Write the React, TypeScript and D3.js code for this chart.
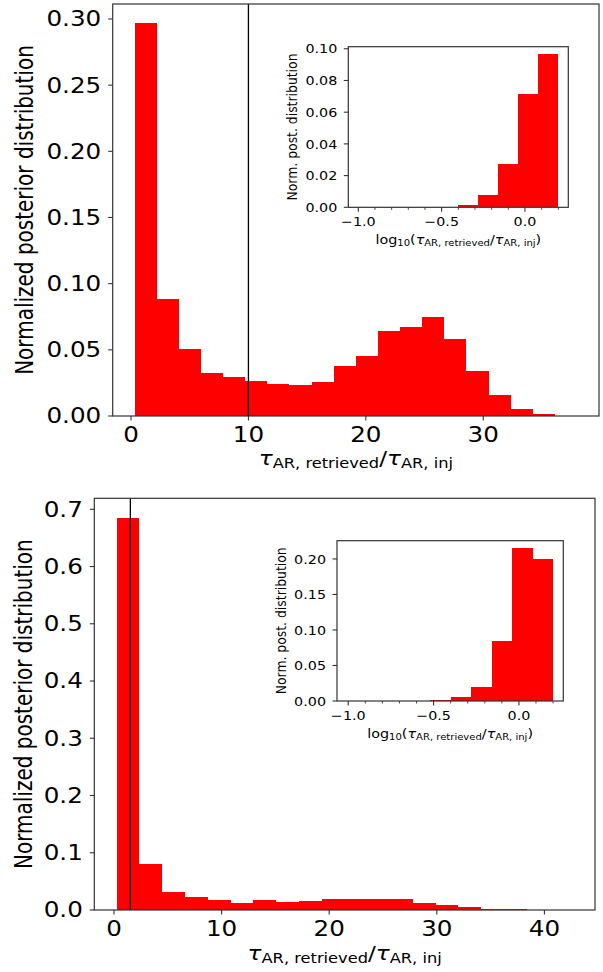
import React from 'react';
import * as d3 from 'd3';

// ---------- data ----------
const topValues = [0.2967, 0.0884, 0.0506, 0.0322, 0.0295, 0.0264, 0.0242, 0.0234, 0.0257, 0.0378, 0.0453, 0.064, 0.0675, 0.0748, 0.0579, 0.034, 0.0161, 0.0055, 0.0013, 0];
const topBinStart = 0.31;
const topBinWidth = 1.884;
const bottomValues = [0.685, 0.0797, 0.0308, 0.0221, 0.0169, 0.0122, 0.0169, 0.014, 0.0151, 0.0186, 0.0186, 0.0186, 0.0186, 0.0122, 0.0081, 0.0047, 0.0012, 0.0012, 0, 0];
const bottomBinStart = 0.25;
const bottomBinWidth = 2.117;
const topInsetValues = [0, 0, 0, 0, 0, 0.00126, 0.0075, 0.0276, 0.0713, 0.0967];
const bottomInsetValues = [0, 0, 0, 0, 0.0014, 0.0052, 0.02, 0.085, 0.2155, 0.2005];
const insetBinStart = -1.0;
const insetBinWidth = 0.12;

const topXTicks = [0, 10, 20, 30];
const topYTicks = [0, 0.05, 0.1, 0.15, 0.2, 0.25, 0.3];
const bottomXTicks = [0, 10, 20, 30, 40];
const bottomYTicks = [0, 0.1, 0.2, 0.3, 0.4, 0.5, 0.6, 0.7];
const topInsetYTicks = [0, 0.02, 0.04, 0.06, 0.08, 0.1];
const bottomInsetYTicks = [0, 0.05, 0.1, 0.15, 0.2];
const insetXTicks = [-1.0, -0.5, 0.0];
const insetMinorTicks = [-0.9, -0.8, -0.7, -0.6, -0.4, -0.3, -0.2, -0.1, 0.1, 0.2];

const topVLine = 10;
const bottomVLine = 1.52;

const yLabelText = 'Normalized posterior distribution';
const insetYLabelText = 'Norm. post. distribution';

// ---------- style ----------
const FONT = 'DejaVu Sans';
const RED = '#ff0000';
const LINE = '#333333';

type BoxProps = {
  left: number; right: number; top: number; bottom: number;
  xDomain: [number, number]; yDomain: [number, number];
  binStart: number; binWidth: number; values: number[];
  xTicks: number[]; yTicks: number[]; minorXTicks?: number[];
  xFmt: (v: number) => string; yFmt: (v: number) => string;
  tickFont: number; tickSX: number; tickLen: number; minorLen?: number;
  yLabelGap: number; xLabelOffset: number; vline?: number;
};

function Axes(p: BoxProps) {
  const x = d3.scaleLinear().domain(p.xDomain).range([p.left, p.right]);
  const y = d3.scaleLinear().domain(p.yDomain).range([p.bottom, p.top]);
  return (
    <g>
      <rect x={p.left} y={p.top} width={p.right - p.left} height={p.bottom - p.top} fill="#fff" />
      <g shapeRendering="crispEdges">
        {p.values.map((v, i) => {
          const a = p.binStart + i * p.binWidth;
          const b = a + p.binWidth;
          if (v <= 0) return null;
          return (
            <rect key={i} x={x(a)} y={y(v)} width={x(b) - x(a)} height={y(0) - y(v)} fill={RED} />
          );
        })}
      </g>
      {p.vline !== undefined && (
        <line x1={x(p.vline)} x2={x(p.vline)} y1={p.top} y2={p.bottom} stroke="#000" strokeWidth={1.3} />
      )}
      <rect x={p.left} y={p.top} width={p.right - p.left} height={p.bottom - p.top} fill="none" stroke={LINE} strokeWidth={1.2} />
      {p.xTicks.map((t) => (
        <g key={'x' + t}>
          <line x1={x(t)} x2={x(t)} y1={p.bottom} y2={p.bottom + p.tickLen} stroke={LINE} strokeWidth={1.1} />
          <text transform={`translate(${x(t)},${p.bottom + p.xLabelOffset}) scale(${p.tickSX},1)`} textAnchor="middle" fontSize={p.tickFont} fontFamily={FONT} fill="#000">{p.xFmt(t)}</text>
        </g>
      ))}
      {(p.minorXTicks || []).map((t) => (
        <line key={'m' + t} x1={x(t)} x2={x(t)} y1={p.bottom} y2={p.bottom + (p.minorLen || 2)} stroke={LINE} strokeWidth={0.9} />
      ))}
      {p.yTicks.map((t) => (
        <g key={'y' + t}>
          <line x1={p.left - p.tickLen} x2={p.left} y1={y(t)} y2={y(t)} stroke={LINE} strokeWidth={1.1} />
          <text transform={`translate(${p.left - p.yLabelGap},${y(t)}) scale(${p.tickSX},1)`} textAnchor="end" dy="0.36em" fontSize={p.tickFont} fontFamily={FONT} fill="#000">{p.yFmt(t)}</text>
        </g>
      ))}
    </g>
  );
}

function RatioLabel({ cx, baseline, F, sx, log }: { cx: number; baseline: number; F: number; sx: number; log?: boolean }) {
  const s = F * 0.7;
  const d = F * 0.17;
  return (
    <text transform={`translate(${cx},${baseline}) scale(${sx},1)`} textAnchor="middle" fontSize={F} fontFamily={FONT} fill="#000">
      {log && <tspan>log</tspan>}
      {log && <tspan fontSize={s} dy={d}>10</tspan>}
      {log && <tspan dy={-d}>(</tspan>}
      <tspan fontStyle="italic">τ</tspan>
      <tspan fontSize={s} dy={d}>AR, retrieved</tspan>
      <tspan dy={-d}>/</tspan>
      <tspan fontStyle="italic">τ</tspan>
      <tspan fontSize={s} dy={d}>AR, inj</tspan>
      {log && <tspan dy={-d}>)</tspan>}
    </text>
  );
}

function YLabel({ x, cy, F, sx, text }: { x: number; cy: number; F: number; sx: number; text: string }) {
  return (
    <text transform={`translate(${x},${cy}) scale(${sx},1) rotate(-90)`} textAnchor="middle" fontSize={F} fontFamily={FONT} fill="#000">{text}</text>
  );
}

export default function App() {
  const f2 = d3.format('.2f');
  const f1 = d3.format('.1f');
  const f0 = d3.format('d');
  const main = { tickFont: 20.5, tickSX: 1.2, tickLen: 4.5, yLabelGap: 11.5, xLabelOffset: 26 };
  const inset = { tickFont: 12.8, tickSX: 1.12, tickLen: 4.5, minorLen: 2.5, yLabelGap: 11, xLabelOffset: 19 };

  // panel geometry
  const T = { left: 112.7, right: 599, top: 4, bottom: 416 };
  const TI = { left: 348.3, right: 568.3, top: 46.7, bottom: 207.3 };
  const B = { left: 94.3, right: 595, top: 498.3, bottom: 910 };
  const BI = { left: 337, right: 563.3, top: 540.7, bottom: 701 };

  return (
    <svg width={603} height={972} style={{ position: 'absolute', left: 0, top: 0, background: '#fff' }}>
      <rect width={603} height={972} fill="#fff" />
      {/* top panel */}
      <Axes {...T} {...main} xDomain={[-1.56, 39.86]} yDomain={[0, 0.3113]}
        binStart={topBinStart} binWidth={topBinWidth} values={topValues}
        xTicks={topXTicks} yTicks={topYTicks} xFmt={f0} yFmt={f2} vline={topVLine} />
      <YLabel x={33} cy={(T.top + T.bottom) / 2} F={20} sx={1.2} text={yLabelText} />
      <RatioLabel cx={(T.left + T.right) / 2} baseline={T.bottom + 49} F={20} sx={1.16} />
      <Axes {...TI} {...inset} xDomain={[-1.06, 0.26]} yDomain={[0, 0.1013]}
        binStart={insetBinStart} binWidth={insetBinWidth} values={topInsetValues}
        xTicks={insetXTicks} minorXTicks={insetMinorTicks} yTicks={topInsetYTicks} xFmt={f1} yFmt={f2} />
      <YLabel x={TI.left - 51} cy={(TI.top + TI.bottom) / 2} F={12.4} sx={1.15} text={insetYLabelText} />
      <RatioLabel cx={(TI.left + TI.right) / 2} baseline={TI.bottom + 37} F={12.8} sx={1.12} log />

      {/* bottom panel */}
      <Axes {...B} {...main} xDomain={[-1.83, 44.7]} yDomain={[0, 0.7192]}
        binStart={bottomBinStart} binWidth={bottomBinWidth} values={bottomValues}
        xTicks={bottomXTicks} yTicks={bottomYTicks} xFmt={f0} yFmt={f1} vline={bottomVLine} />
      <YLabel x={31.7} cy={(B.top + B.bottom) / 2} F={20} sx={1.2} text={yLabelText} />
      <RatioLabel cx={(B.left + B.right) / 2} baseline={B.bottom + 50} F={20} sx={1.16} />
      <Axes {...BI} {...inset} xDomain={[-1.066, 0.26]} yDomain={[0, 0.2257]}
        binStart={insetBinStart} binWidth={insetBinWidth} values={bottomInsetValues}
        xTicks={insetXTicks} minorXTicks={insetMinorTicks} yTicks={bottomInsetYTicks} xFmt={f1} yFmt={f2} />
      <YLabel x={BI.left - 51} cy={(BI.top + BI.bottom) / 2} F={12.4} sx={1.15} text={insetYLabelText} />
      <RatioLabel cx={(BI.left + BI.right) / 2} baseline={BI.bottom + 37} F={12.8} sx={1.12} log />
    </svg>
  );
}
